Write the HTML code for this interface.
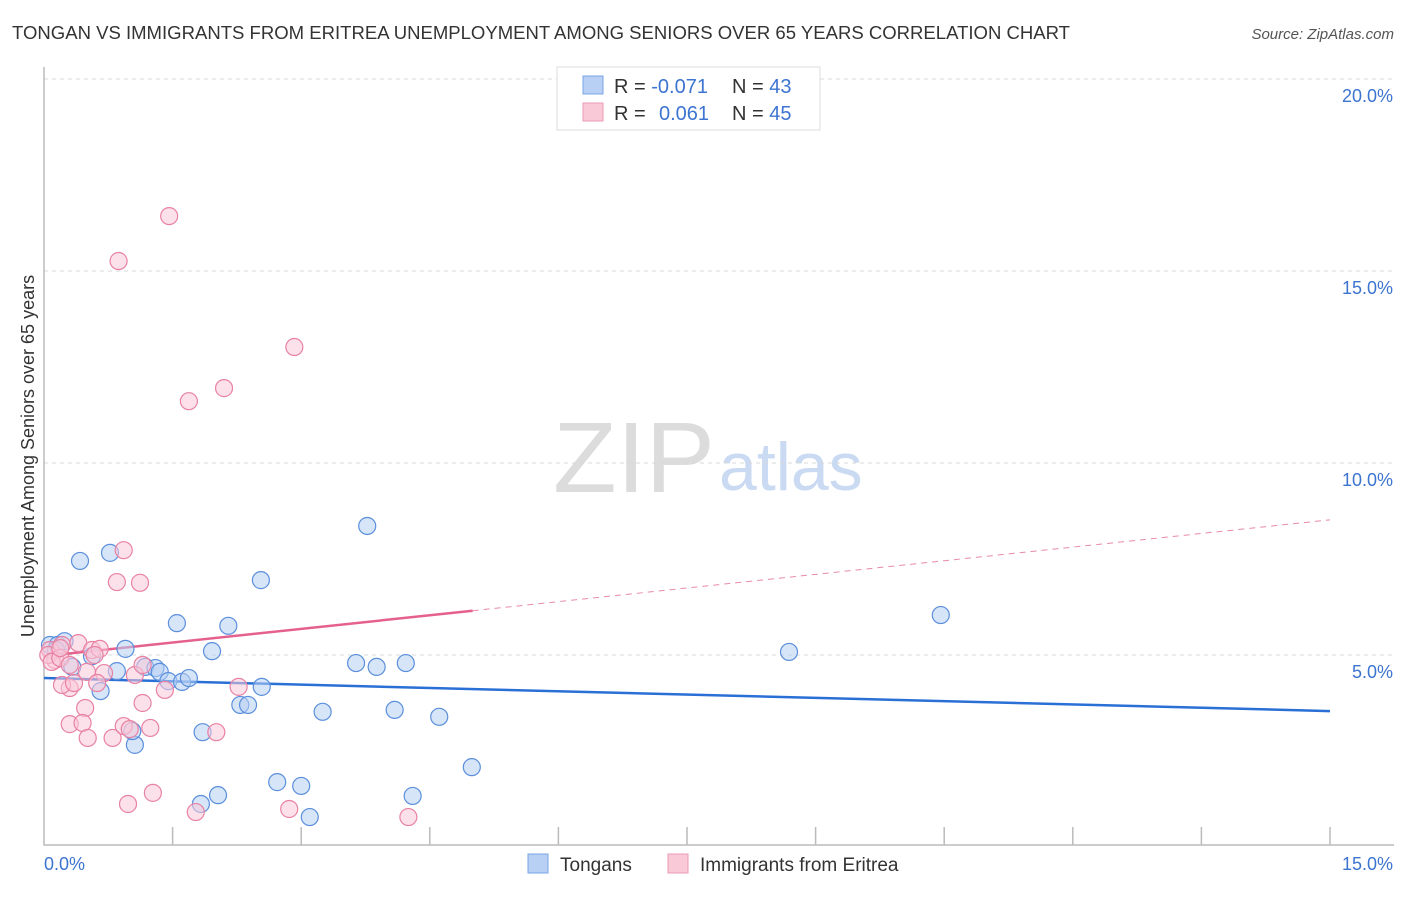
<!DOCTYPE html>
<html><head><meta charset="utf-8"><style>
body{margin:0;background:#fff;font-family:"Liberation Sans",sans-serif}
svg text{font-family:"Liberation Sans",sans-serif}
</style></head><body>
<svg id="chart" width="1406" height="892" viewBox="0 0 1406 892" xmlns="http://www.w3.org/2000/svg">
<text x="12" y="39" font-size="18" fill="#333" textLength="1058" lengthAdjust="spacingAndGlyphs">TONGAN VS IMMIGRANTS FROM ERITREA UNEMPLOYMENT AMONG SENIORS OVER 65 YEARS CORRELATION CHART</text>
<text x="1394" y="39" font-size="15" fill="#555" text-anchor="end" font-style="italic">Source: ZipAtlas.com</text>
<g>
<text x="553" y="492" font-size="100" fill="#dcdcdc" font-family="Liberation Serif, serif" textLength="162" lengthAdjust="spacingAndGlyphs">ZIP</text>
<text x="719" y="490" font-size="68" fill="#c9daf2">atlas</text>
</g>
<g id="grid"></g>
<g id="axes"></g>
<text transform="translate(34,456) rotate(-90)" font-size="18" fill="#333" text-anchor="middle">Unemployment Among Seniors over 65 years</text>
<g id="lines"></g>
<g id="points"></g>
<g>
<rect x="557" y="67" width="263" height="63" fill="#fff" stroke="#ddd"/>
<rect x="583" y="76" width="20" height="18" fill="#b7d0f4" stroke="#7aa5e6"/>
<rect x="583" y="103" width="20" height="18" fill="#f9c9d8" stroke="#ec9ab4"/>
<text x="614" y="93" font-size="20" fill="#333">R = <tspan fill="#3c74d0">-0.071</tspan><tspan x="732">N = </tspan><tspan fill="#3c74d0">43</tspan></text>
<text x="614" y="120" font-size="20" fill="#333">R = <tspan x="659" fill="#3c74d0">0.061</tspan><tspan x="732">N = </tspan><tspan fill="#3c74d0">45</tspan></text>
</g>
<g>
<rect x="528" y="854" width="20" height="19" fill="#b7d0f4" stroke="#7aa5e6"/>
<text x="560" y="871" font-size="19" fill="#333">Tongans</text>
<rect x="668" y="854" width="20" height="19" fill="#f9c9d8" stroke="#ec9ab4"/>
<text x="700" y="871" font-size="19" fill="#333">Immigrants from Eritrea</text>
</g>
</svg>
<script>
const yTicks=[5,10,15,20];
const yTickLabels=["5.0%","10.0%","15.0%","20.0%"];
const xTicks=[1.5,3,4.5,6,7.5,9,10.5,12,13.5,15];
const blueX=[0.07,0.16,0.24,0.42,0.77,0.95,0.66,0.33,0.85,1.18,1.30,1.35,1.45,1.61,1.69,1.55,2.15,1.96,2.53,2.54,2.29,2.38,1.85,1.06,1.03,1.83,2.03,2.72,3.00,3.10,3.25,3.77,3.64,3.88,4.22,4.09,4.61,4.99,4.30,8.69,10.46,0.56,0.14];
const blueY=[5.26,5.26,5.36,7.45,7.66,5.16,4.06,4.69,4.58,4.69,4.66,4.56,4.32,4.30,4.40,5.83,5.76,5.10,6.95,4.17,3.70,3.70,2.99,2.66,3.02,1.12,1.35,1.69,1.59,0.78,3.52,8.36,4.79,4.69,4.79,3.57,3.39,2.08,1.33,5.08,6.04,4.97,5.13];
const pinkX=[1.46,0.87,2.92,2.10,1.69,0.93,0.85,1.12,0.07,0.13,0.05,0.21,0.40,0.56,0.65,0.09,0.19,0.50,0.70,0.30,0.21,0.35,0.62,1.41,1.06,1.15,0.48,0.30,0.45,0.51,0.80,0.93,1.00,1.24,1.15,2.01,2.27,0.98,1.27,1.77,2.86,4.25,0.19,0.59,0.30];
const pinkY=[16.43,15.26,13.02,11.95,11.61,7.73,6.90,6.88,5.13,4.87,5.00,5.26,5.31,5.13,5.16,4.82,4.92,4.56,4.53,4.14,4.22,4.27,4.27,4.09,4.48,4.74,3.62,3.20,3.23,2.84,2.84,3.15,3.07,3.10,3.75,2.99,4.17,1.12,1.41,0.91,0.99,0.78,5.18,5.00,4.74];
const blueTrend=[4.40,3.54];
const pinkTrend=[4.97,8.52];
const pinkSolidEnd=5.0;
const X=v=>44+v/15*1286, Y=v=>847-v*38.4;
const NS="http://www.w3.org/2000/svg";
function mk(tag,attrs,parent){const e=document.createElementNS(NS,tag);for(const k in attrs)e.setAttribute(k,attrs[k]);document.getElementById(parent).appendChild(e);return e;}
yTicks.forEach((t,i)=>{
 const l=mk('line',{x1:44,x2:1394,y1:Y(t),y2:Y(t),stroke:'#d8d8d8','stroke-dasharray':'4,4'},'grid');
 
 
 const tx=mk('text',{x:1393,y:Y(t)+23,'font-size':18,fill:'#3c74d0','text-anchor':'end'},'grid');
 tx.textContent=yTickLabels[i];
 
 
});
const topLine=mk('line',{x1:44,x2:1394,y1:79,y2:79,stroke:'#d8d8d8','stroke-dasharray':'4,4'},'grid');


const ax=mk('path',{d:'M44,67V845H1394',fill:'none',stroke:'#bbb','stroke-width':1.5},'axes');


xTicks.forEach(t=>{
 const l=mk('line',{x1:X(t),x2:X(t),y1:827,y2:845,stroke:'#bbb','stroke-width':1.5},'axes');
 
 
});
const xl0=mk('text',{x:44,y:870,'font-size':18,fill:'#3c74d0'},'axes');xl0.textContent='0.0%';


const xl1=mk('text',{x:1393,y:870,'font-size':18,fill:'#3c74d0','text-anchor':'end'},'axes');xl1.textContent='15.0%';


function drawPts(xs,ys,fill,stroke,name){xs.forEach((x,i)=>{
 const c=mk('circle',{cx:X(x),cy:Y(ys[i]),r:8.5,fill:fill,'fill-opacity':0.55,stroke:stroke,'stroke-width':1.2},'points');
 
 
});}
drawPts(blueX,blueY,'#b7d0f4','#5b8fdc','tongan-point');
drawPts(pinkX,pinkY,'#f9c9d8','#e882a3','eritrea-point');
const pv=x=>pinkTrend[0]+(pinkTrend[1]-pinkTrend[0])*x/15;
const bl=mk('line',{x1:X(0),y1:Y(blueTrend[0]),x2:X(15),y2:Y(blueTrend[1]),stroke:'#2a6fd6','stroke-width':2.5},'lines');


const pl=mk('line',{x1:X(0),y1:Y(pv(0)),x2:X(pinkSolidEnd),y2:Y(pv(pinkSolidEnd)),stroke:'#e5608c','stroke-width':2.5},'lines');


const pd=mk('line',{x1:X(pinkSolidEnd),y1:Y(pv(pinkSolidEnd)),x2:X(15),y2:Y(pv(15)),stroke:'#e88aa8','stroke-width':1,'stroke-dasharray':'6,5'},'lines');


</script>
</body></html>
